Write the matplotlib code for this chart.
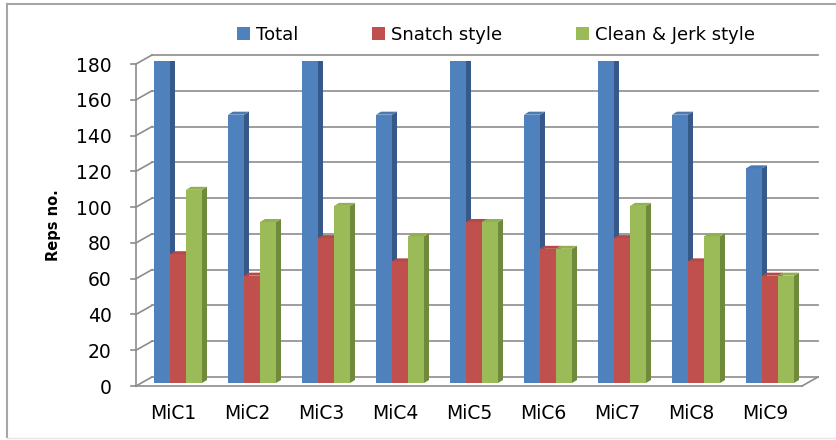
import matplotlib
matplotlib.use("Agg")
import matplotlib.pyplot as plt
from matplotlib.patches import Polygon, Patch
from matplotlib.lines import Line2D
from matplotlib.transforms import offset_copy, ScaledTranslation
import numpy as np

categories = ["MiC1", "MiC2", "MiC3", "MiC4", "MiC5", "MiC6", "MiC7", "MiC8", "MiC9"]
total = [180, 150, 180, 150, 180, 150, 180, 150, 120]
snatch = [72, 60, 81, 68, 90, 75, 81, 68, 60]
clean_jerk = [108, 90, 99, 82, 90, 75, 99, 82, 60]
series_names = ["Total", "Snatch style", "Clean & Jerk style"]
yticks = list(range(0, 181, 20))

front_cols = ["#4F81BD", "#C0504D", "#9BBB59"]
side_cols = ["#37598A", "#8E3835", "#6E8A3A"]
top_cols = ["#4A78B0", "#B44A47", "#92B052"]
grid_col = "#8C8C8C"

W, H = 836, 440
fig = plt.figure(figsize=(W / 100, H / 100), dpi=100)
ax = fig.add_axes([141 / W, (H - 383) / H, 666 / W, 322 / H])
ax.set_xlim(-0.5, len(categories) - 0.5)
ax.set_ylim(0, 180)
for s in ax.spines.values():
    s.set_visible(False)
ax.patch.set_visible(False)

def shifted(dx, dy):
    return offset_copy(ax.transData, fig=fig, x=dx, y=dy, units="dots")

# depth planes (pixel offsets from the bar front plane)
front = shifted(-5, -3)
back = shifted(11, 6)
x0, x1 = -0.5, len(categories) - 0.5

# back wall gridlines and left wall diagonals
for v in yticks:
    ax.add_line(Line2D([x0, x1], [v, v], transform=back, color=grid_col, lw=1.2, clip_on=False, zorder=1))
    p_front = front.transform((x0, v))
    p_back = back.transform((x0, v))
    ax.add_line(Line2D([p_front[0], p_back[0]], [p_front[1], p_back[1]], transform=None,
                       color=grid_col, lw=1.2, clip_on=False, zorder=1))
    ax.add_line(Line2D([p_front[0] - 5, p_front[0]], [p_front[1], p_front[1]], transform=None,
                       color=grid_col, lw=1.2, clip_on=False, zorder=1))

# front axis line
ax.add_line(Line2D([x0, x0], [0, 180], transform=front, color=grid_col, lw=1.2, clip_on=False, zorder=1))
# floor front edge and right edge
ax.add_line(Line2D([x0, x1], [0, 0], transform=front, color=grid_col, lw=1.2, clip_on=False, zorder=1))
pf = front.transform((x1, 0))
pb = back.transform((x1, 0))
ax.add_line(Line2D([pf[0], pb[0]], [pf[1], pb[1]], transform=None, color=grid_col, lw=1.2,
                   clip_on=False, zorder=1))

# 3D columns
bw = 16 / 74
ddx, ddy = 5, 3
series = [total, snatch, clean_jerk]
xs = np.arange(len(categories))
for k, (vals, fc, sc, tc) in enumerate(zip(series, front_cols, side_cols, top_cols)):
    lefts = xs + (k - 1.5) * bw
    bars = ax.bar(lefts, vals, width=bw, align="edge", color=fc, edgecolor="none", zorder=3 + k)
    for rect in bars:
        xl = rect.get_x()
        xr = xl + rect.get_width()
        h = rect.get_height()
        p_bl = ax.transData.transform((xr, 0))
        p_tl = ax.transData.transform((xr, h))
        p_ltop = ax.transData.transform((xl, h))
        side = Polygon([p_bl, p_tl, p_tl + (ddx, ddy), p_bl + (ddx, ddy)], closed=True,
                       transform=None, facecolor=sc, edgecolor="none", zorder=3 + k)
        top = Polygon([p_ltop, p_tl, p_tl + (ddx, ddy), p_ltop + (ddx, ddy)], closed=True,
                      transform=None, facecolor=tc, edgecolor="none", zorder=3 + k)
        ax.add_patch(side)
        ax.add_patch(top)

# axis tick labels
ax.set_yticks(yticks)
ax.set_yticklabels([str(v) for v in yticks], fontsize=13.5, color="#000000")
ax.tick_params(axis="y", length=0, pad=21)
for lab in ax.get_yticklabels():
    lab.set_transform(lab.get_transform() + ScaledTranslation(0, -3 / 100, fig.dpi_scale_trans))

ax.set_xticks(xs)
ax.set_xticklabels(categories, fontsize=13.5, color="#000000")
ax.tick_params(axis="x", length=0, pad=15)
for lab in ax.get_xticklabels():
    lab.set_transform(lab.get_transform() + ScaledTranslation(-5 / 100, 0, fig.dpi_scale_trans))

ax.set_ylabel("Reps no.", fontsize=10.5, fontweight="bold")
ax.yaxis.set_label_coords(-0.12, 0.49)

# legend
handles = [Patch(facecolor=c, edgecolor="none") for c in front_cols]
fig.legend(handles, series_names, loc="center", bbox_to_anchor=(496 / W, 1 - 35 / H), ncol=3,
           frameon=False, fontsize=13, handlelength=0.72, handleheight=0.72,
           handletextpad=0.33, columnspacing=4.1)

# outer chart border
border = "#A6A6A6"
fig.add_artist(Line2D([7 / W, 7 / W], [1 - 4 / H, 1 - 437 / H], transform=fig.transFigure, color=border, lw=1.5))
fig.add_artist(Line2D([7 / W, 1.0], [1 - 4 / H, 1 - 4 / H], transform=fig.transFigure, color=border, lw=1.5))
fig.add_artist(Line2D([7 / W, 1.0], [1 - 438 / H, 1 - 438 / H], transform=fig.transFigure, color="#E6E6E6", lw=1))

fig.savefig("out.png", dpi=100)
